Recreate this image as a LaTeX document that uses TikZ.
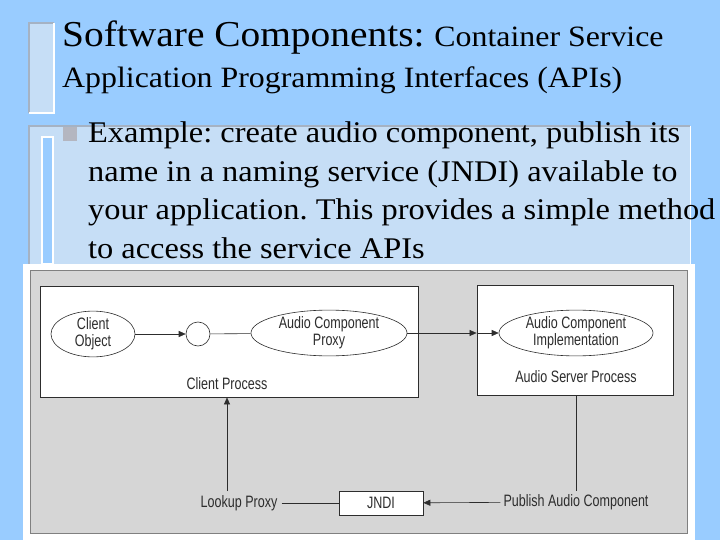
\documentclass[tikz,border=0pt]{standalone}
\usepackage{fontspec}
\setmainfont[FakeStretch=1.08]{Liberation Serif}
\newfontfamily\diagfont[FakeStretch=0.76]{Liberation Sans}
\usepackage{tikz}
\usetikzlibrary{positioning, arrows.meta, shapes.geometric}
\usepackage{xcolor}
\definecolor{slidebg}{RGB}{153,204,255}
\definecolor{panelfill}{RGB}{198,222,246}
\definecolor{panelrim}{RGB}{165,178,195}
\definecolor{bulletgrey}{RGB}{180,182,192}
\definecolor{stipple}{RGB}{214,214,214}
\definecolor{ink}{RGB}{45,45,45}
\tikzset{
  proc/.style={draw=ink, fill=white, line width=0.8pt, inner sep=0pt},
  oval/.style={ellipse, draw=ink, fill=white, line width=0.6pt, inner sep=0pt, align=center,
    font=\diagfont\fontsize{16.5}{17}\selectfont, text=ink},
  lbl/.style={font=\diagfont\fontsize{16.5}{17}\selectfont, text=ink, inner sep=1pt},
  line/.style={anchor=base west, inner sep=0pt, font=\fontsize{30}{32}\selectfont},
  arr/.style={draw=ink, line width=0.6pt, -{Triangle[length=7pt,width=6pt]}},
  wire/.style={draw=ink, line width=0.6pt},
}

\begin{document}
\frenchspacing
\begin{tikzpicture}[x=1pt, y=-1pt]
\useasboundingbox (0,0) rectangle (720,540);
\fill[slidebg] (0,0) rectangle (720,540);

% Title bar
\fill[panelfill] (29,23) rectangle (54,113);
\draw[panelrim, line width=2pt] (29,113) -- (29,23) -- (54,23);
\draw[white, line width=2pt] (54,23) -- (54,113) -- (29,113);
\node[anchor=base west, inner sep=0pt] (title) at (62,47)
  {\fontsize{36.5}{38}\selectfont Software Components: {\fontsize{29.5}{32}\selectfont Container Service}};
\node[line, font=\fontsize{29.5}{32}\selectfont] (subtitle) at (62,88) {Application Programming Interfaces (APIs)};

% Text panel
\fill[panelfill] (29,126) rectangle (690,264);
\draw[panelrim, line width=2pt] (29,264) -- (29,126) -- (690,126);
\draw[white, line width=1pt] (690,126) -- (690,264);
\filldraw[fill=slidebg, draw=white, line width=1.5pt] (42,137) rectangle (53,264);
\fill[bulletgrey] (63,127) rectangle (77,141);
\node[line] (body1) at (88,143) {Example: create audio component, publish its};
\node[line] (body2) at (88,181.5) {name in a naming service (JNDI) available to};
\node[line] (body3) at (88,220) {your application. This provides a simple method};
\node[line] (body4) at (88,258.5) {to access the service APIs};

% Figure
\fill[white] (23,264) rectangle (695,540);
\filldraw[fill=stipple, draw=gray] (30,270) rectangle (687,533);

\node[proc, minimum width=378pt, minimum height=111pt] (client) at (229,341.5) {};
\node[proc, minimum width=196pt, minimum height=110pt] (server) at (575,340) {};

\node[oval, minimum width=84pt, minimum height=42pt] (cobj) at (93,334) {Client\\Object};
\node[circle, draw=ink, fill=white, line width=0.6pt, minimum size=24pt, inner sep=0pt] (port) at (198,334) {};
\node[oval, minimum width=156pt, minimum height=38pt] (proxy) at (329,333) {Audio Component\\Proxy};
\node[oval, minimum width=154pt, minimum height=38pt] (impl) at (576,333) {Audio Component\\Implementation};
\node[lbl] (cplbl) at (227,384) {Client Process};
\node[lbl] (splbl) at (576,377) {Audio Server Process};

\node[lbl, draw=ink, fill=white, line width=0.6pt, minimum width=84pt, minimum height=24pt] (jndi) at (381,503) {JNDI};
\node[lbl, inner sep=4pt] (lookup) at (239,503) {Lookup Proxy};
\node[lbl, inner sep=3pt] (publish) at (576,502) {Publish Audio Component};

% Connectors
\draw[arr] (cobj) -- (port);
\draw[wire] (port) -- (proxy);
\draw[arr] (proxy.east) -- (proxy.east -| server.west);
\draw[arr] (proxy.east -| server.west) -- (impl.west);
\draw[arr] (lookup.north -| cplbl) -- (cplbl |- client.south);
\draw[wire] (server.south -| publish) -- (publish.north);
\draw[wire] (lookup) -- (jndi);
\draw[arr] (publish) -- (jndi);
\end{tikzpicture}
\end{document}
